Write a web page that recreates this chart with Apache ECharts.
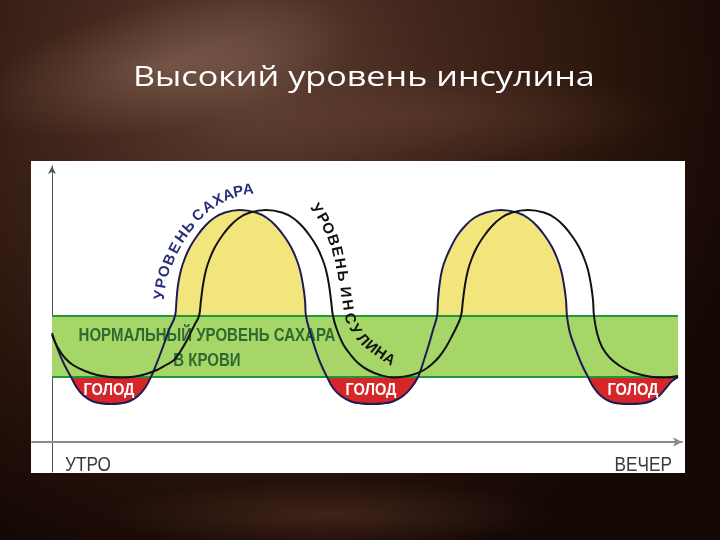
<!DOCTYPE html>
<html>
<head>
<meta charset="utf-8">
<script src="https://cdn.jsdelivr.net/npm/echarts@6/dist/echarts.min.js"></script>
<style>
html,body{margin:0;padding:0;background:#24110a;}
#c{width:720px;height:540px;}
</style>
</head>
<body>
<div id="c"></div>
<script>
// ---- data (x: time of day, arbitrary units; y: level, arbitrary units) ----
const sugarLevel = [
  [0,10.9],[0.6,9.2],[1.2,7.8],[1.9,6.5],[2.5,5.4],[3.2,4.6],[4.1,4.05],[5.0,3.85],[5.9,3.8],
  [6.8,3.85],[7.7,4.05],[8.6,4.6],[9.3,5.4],[9.9,6.5],[10.6,8.2],[11.2,9.8],[11.7,11.2],[12.3,12.6],
  [12.45,14.2],[12.6,15.7],[12.9,17.2],[13.3,18.4],[13.8,19.5],[14.5,20.6],[15.3,21.6],[16.2,22.4],
  [17.3,22.95],[18.8,23.2],[20.4,22.95],[21.5,22.4],[22.4,21.6],[23.2,20.6],[23.9,19.5],[24.4,18.4],
  [24.8,17.2],[25.1,15.7],[25.3,14.2],[25.4,12.6],[25.8,11.0],[26.3,9.4],[26.8,8.0],[27.5,6.5],
  [28.1,5.4],[28.9,4.6],[29.9,4.05],[30.9,3.85],[32.0,3.8],[33.1,3.85],[34.1,4.05],[35.1,4.6],
  [35.9,5.4],[36.6,6.5],[37.2,8.2],[37.7,9.8],[38.1,11.2],[38.5,12.6],[38.6,14.2],[38.75,15.7],
  [39.0,17.2],[39.4,18.4],[39.9,19.5],[40.5,20.6],[41.3,21.6],[42.2,22.4],[43.4,22.95],[44.9,23.2],
  [46.5,22.95],[47.6,22.4],[48.5,21.6],[49.3,20.6],[50.0,19.5],[50.5,18.4],[50.9,17.2],[51.2,15.7],
  [51.4,14.2],[51.5,12.6],[51.8,10.9],[52.4,9.2],[53.0,7.7],[53.6,6.5],[54.2,5.4],[54.9,4.6],
  [55.8,4.05],[56.7,3.85],[57.8,3.8],[58.9,3.85],[59.8,4.05],[60.7,4.6],[61.4,5.4],[62.0,6.1],[62.6,6.5]
];
const insulinLevel = [
  [0,10.7],[0.6,9.4],[1.3,8.4],[2.1,7.7],[3.3,7.1],[4.5,6.7],[5.8,6.5],[7.1,6.45],[8.3,6.55],
  [9.4,6.8],[10.5,7.2],[11.4,7.7],[12.2,8.2],[12.8,9.0],[13.4,10.0],[13.9,11.0],[14.3,11.8],[14.7,12.6],
  [14.9,14.2],[15.1,15.7],[15.4,17.2],[15.8,18.4],[16.3,19.5],[17.0,20.6],[17.8,21.6],[18.7,22.4],
  [19.8,22.95],[21.4,23.2],[23.0,22.95],[24.1,22.4],[25.0,21.6],[25.8,20.6],[26.5,19.5],[27.0,18.4],
  [27.4,17.2],[27.7,15.7],[27.9,14.2],[28.1,12.6],[28.5,11.2],[29.1,9.8],[29.8,8.8],[30.6,7.9],
  [31.6,7.2],[32.8,6.7],[34.1,6.45],[35.3,6.55],[36.3,6.8],[37.2,7.2],[38.0,7.8],[38.7,8.5],
  [39.4,9.5],[40.0,10.6],[40.5,11.6],[40.9,12.6],[41.1,14.2],[41.3,15.7],[41.6,17.2],[42.0,18.4],
  [42.5,19.5],[43.2,20.6],[44.0,21.6],[44.9,22.4],[46.0,22.95],[47.6,23.2],[49.2,22.95],[50.3,22.4],
  [51.2,21.6],[52.0,20.6],[52.7,19.5],[53.2,18.4],[53.6,17.2],[53.9,15.7],[54.1,14.2],[54.2,12.6],
  [54.5,10.9],[55.0,9.5],[55.8,8.4],[56.8,7.6],[57.8,7.05],[59.0,6.7],[60.1,6.5],[61.3,6.45],[62.6,6.6]
];
const normalLow = 6.5;
const normalHigh = 12.6;
const bandStart = 0;
const bandEnd = 62.6;

// ---- texts ----
const titleText = 'Высокий уровень инсулина';
const axisStartLabel = 'УТРО';
const axisEndLabel = 'ВЕЧЕР';
const bandLabelLines = ['НОРМАЛЬНЫЙ УРОВЕНЬ САХАРА', 'В КРОВИ'];
const hungerLabel = 'ГОЛОД';
const sugarCurveLabel = 'УРОВЕНЬ САХАРА';
const insulinCurveLabel = 'УРОВЕНЬ ИНСУЛИНА';

// ---- layout of decorative labels (pixel positions, rotation in degrees) ----
const sugarLabelLayout = [
  [160,295,85],[161.7,283.3,80],[165,271.5,74],[170,260,68],[175.5,248.3,62],[182,237,55],[189,227,48],
  [198.5,215.5,40],[208.3,207,32],[218.3,200.5,25],[228.3,195.5,18],[238.3,192,11],[248.3,190,5]
];
const insulinLabelLayout = [
  [316,209,-55],[322.5,218.5,-60],[327.5,228.5,-65],[332.5,240,-72],[336.5,251.5,-78],[339.5,263.5,-82],[342,276,-85],
  [345,292,-86],[347,305,-82],[349.5,318.5,-72],[355,329.5,-60],[362.5,340,-48],[371,347,-40],[380,353.5,-35],[389,359.5,-32]
];
const hungerCenters = [109, 371, 633];

const sans = "'Liberation Sans','DejaVu Sans',sans-serif";

const yellowData = sugarLevel.map(([x, y]) => [x, y >= normalHigh ? y : null]);
const redData = sugarLevel.map(([x, y]) => [x, y <= normalLow ? y : null]);

function charsOf(s) { return s.replace(/ /g, '').split(''); }
function txt(o) {
  const st = o.style;
  st.align = st.textAlign; st.verticalAlign = st.textVerticalAlign;
  return Object.assign({ type:'text', silent:true }, o);
}

const graphics = [
  // background glows
  { type:'circle', shape:{cx:0, cy:0, r:160}, x:170, y:65, scaleX:1.2, scaleY:0.4, rotation:0.2, z:-30, silent:true,
    style:{fill:{type:'radial', x:0.5, y:0.5, r:0.5, colorStops:[{offset:0,color:'rgba(170,135,115,0.38)'},{offset:1,color:'rgba(170,135,115,0)'}]}} },
  { type:'circle', shape:{cx:0, cy:0, r:160}, x:420, y:115, scaleX:1.6, scaleY:0.3, z:-30, silent:true,
    style:{fill:{type:'radial', x:0.5, y:0.5, r:0.5, colorStops:[{offset:0,color:'rgba(110,72,55,0.4)'},{offset:1,color:'rgba(110,72,55,0)'}]}} },
  { type:'circle', shape:{cx:0, cy:0, r:160}, x:330, y:515, scaleX:1.4, scaleY:0.22, z:-30, silent:true,
    style:{fill:{type:'radial', x:0.5, y:0.5, r:0.5, colorStops:[{offset:0,color:'rgba(100,62,46,0.45)'},{offset:1,color:'rgba(100,62,46,0)'}]}} },
  // white panel
  { type:'rect', shape:{x:31, y:161, width:654, height:312}, style:{fill:'#ffffff'}, z:-10, silent:true },
  // title
  txt({ x:133, y:78, scaleX:1.22, z:50,
    style:{text:titleText, fill:'#ffffff', font:'28px "Open Sans"', textAlign:'left', textVerticalAlign:'middle'} }),
  // axis end labels
  txt({ x:65, y:465, scaleX:0.82, z:50,
    style:{text:axisStartLabel, fill:'#3a3a3a', font:'21px ' + sans, textAlign:'left', textVerticalAlign:'middle'} }),
  txt({ x:672, y:465, scaleX:0.82, z:50,
    style:{text:axisEndLabel, fill:'#3a3a3a', font:'21px ' + sans, textAlign:'right', textVerticalAlign:'middle'} }),
  // band text
  txt({ x:207, y:336, scaleX:0.79, z:4,
    style:{text:bandLabelLines[0], fill:'#2f6a33', font:'bold 19px ' + sans, textAlign:'center', textVerticalAlign:'middle'} }),
  txt({ x:207, y:361, scaleX:0.79, z:4,
    style:{text:bandLabelLines[1], fill:'#2f6a33', font:'bold 19px ' + sans, textAlign:'center', textVerticalAlign:'middle'} })
];
hungerCenters.forEach(cx => graphics.push(txt({
  x:cx, y:390, scaleX:0.86, z:20,
  style:{text:hungerLabel, fill:'#ffffff', font:'bold 17px ' + sans, textAlign:'center', textVerticalAlign:'middle'}
})));
charsOf(sugarCurveLabel).forEach((ch, i) => {
  const [px, py, rot] = sugarLabelLayout[i];
  graphics.push(txt({ x:px, y:py, rotation:rot * Math.PI / 180, z:20,
    style:{text:ch, fill:'#2a2f78', font:'bold 15px ' + sans, textAlign:'center', textVerticalAlign:'middle'} }));
});
charsOf(insulinCurveLabel).forEach((ch, i) => {
  const [px, py, rot] = insulinLabelLayout[i];
  graphics.push(txt({ x:px, y:py, rotation:rot * Math.PI / 180, z:20,
    style:{text:ch, fill:'#111111', font:'bold 15px ' + sans, textAlign:'center', textVerticalAlign:'middle'} }));
});

const chart = echarts.init(document.getElementById('c'), null, { renderer:'canvas', width:720, height:540 });
chart.setOption({
  animation: false,
  backgroundColor: {
    type:'radial', x:0.35, y:0.15, r:0.95,
    colorStops:[
      {offset:0, color:'#5e4034'},
      {offset:0.35, color:'#43271c'},
      {offset:0.75, color:'#26120a'},
      {offset:1, color:'#150805'}
    ]
  },
  grid: { left:32, right:38, top:166, bottom:68, containLabel:false },
  xAxis: {
    type:'value', min:-2, max:63,
    axisLine:{ show:true, onZero:true, symbol:['none','arrow'], symbolSize:[7,9], lineStyle:{ color:'#8a8a8a', width:2 } },
    axisTick:{ show:false }, axisLabel:{ show:false }, splitLine:{ show:false }
  },
  yAxis: {
    type:'value', min:-3, max:27.6,
    axisLine:{ show:true, onZero:true, symbol:['none','arrow'], symbolSize:[6,8], lineStyle:{ color:'#555555', width:1 } },
    axisTick:{ show:false }, axisLabel:{ show:false }, splitLine:{ show:false }
  },
  graphic: { elements: graphics },
  series: [
    {
      name:'band', type:'line', data:[[bandStart, normalLow]], showSymbol:false, symbol:'none',
      lineStyle:{ opacity:0 }, silent:true, z:1,
      markArea:{ silent:true, itemStyle:{ color:'#a6d568' },
        data:[[{ coord:[bandStart, normalLow] }, { coord:[bandEnd, normalHigh] }]] },
      markLine:{ silent:true, symbol:'none', label:{ show:false }, z:5,
        lineStyle:{ color:'#1f973a', width:2, type:'solid' },
        data:[
          [{ coord:[bandStart, normalHigh] }, { coord:[bandEnd, normalHigh] }],
          [{ coord:[bandStart, normalLow] }, { coord:[bandEnd, normalLow] }]
        ] }
    },
    {
      name:'high', type:'line', data:yellowData, smooth:0.4, symbol:'none', showSymbol:false, silent:true, z:2,
      lineStyle:{ width:0, opacity:0 }, areaStyle:{ color:'#f1e57c', opacity:1, origin:normalHigh }
    },
    {
      name:'low', type:'line', data:redData, smooth:0.4, symbol:'none', showSymbol:false, silent:true, z:2,
      lineStyle:{ width:0, opacity:0 }, areaStyle:{ color:'#d52629', opacity:1, origin:normalLow }
    },
    {
      name:'sugar', type:'line', data:sugarLevel, smooth:0.4, symbol:'none', showSymbol:false, silent:true, z:8,
      lineStyle:{ color:'#1d1b55', width:2 }
    },
    {
      name:'insulin', type:'line', data:insulinLevel, smooth:0.4, symbol:'none', showSymbol:false, silent:true, z:8,
      lineStyle:{ color:'#111111', width:2 }
    }
  ]
});
</script>
</body>
</html>
